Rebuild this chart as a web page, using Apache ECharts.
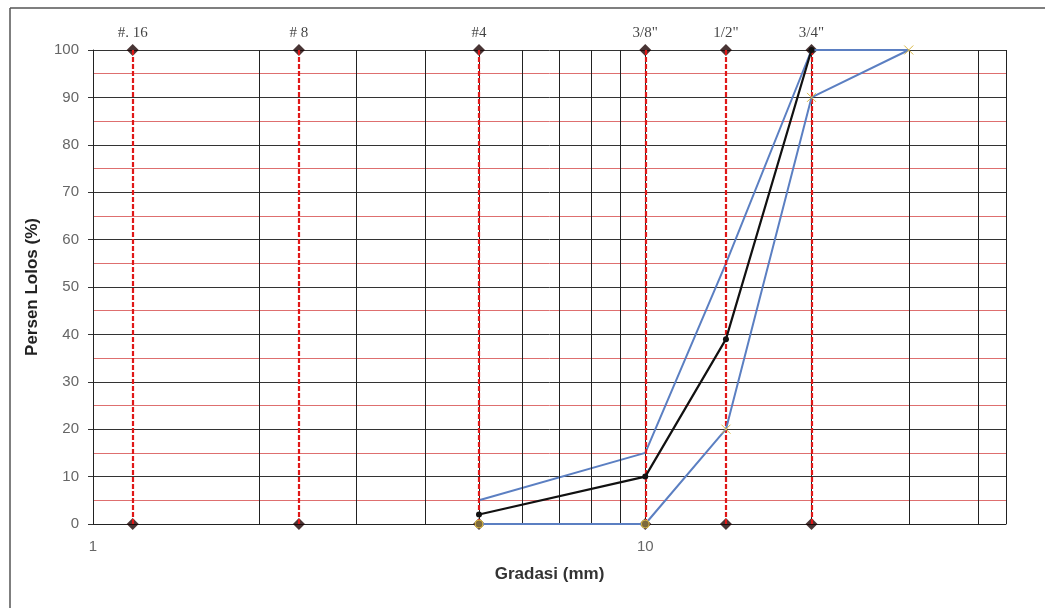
<!DOCTYPE html>
<html>
<head>
<meta charset="utf-8">
<script src="https://cdn.jsdelivr.net/npm/echarts@6/dist/echarts.min.js"></script>
<style>
  html, body { margin: 0; padding: 0; background: #fff; }
  #chart { width: 1045px; height: 608px; }
</style>
</head>
<body>
<div id="chart"></div>
<script>
// sieve openings (mm) and their names
const sieveNames = ['#. 16', '# 8', '#4', '3/8"', '1/2"', '3/4"']
const sieveSizes = [1.18, 2.36, 5, 10, 14, 20]

// grading envelope and measured grading
const upperX = [5, 10, 14, 20, 30]
const upperY = [5, 15, 55, 100, 100]
const lowerX = [5, 10, 14, 20, 30]
const lowerY = [0, 0, 20, 90, 100]
const gradX = [5, 10, 14, 20]
const gradY = [2, 10, 39, 100]

// log minor grid lines
const minorGridX = [2, 3, 4, 5, 6, 7, 8, 9, 20, 30, 40]

const pairs = (xs, ys) => xs.map((x, i) => [x, ys[i]])
const crossPath = 'path://M0,0L10,10M10,0L0,10'

const diamonds = []
sieveSizes.forEach((s, i) => {
  diamonds.push({ value: [s, 0] })
  diamonds.push({ value: [s, 100], label: { show: true, formatter: sieveNames[i] } })
})

const chart = echarts.init(document.getElementById('chart'), null, { renderer: 'canvas' })

chart.setOption({
  animation: false,
  backgroundColor: '#fff',
  grid: { left: 93, top: 50, right: 39, bottom: 84 },
  graphic: [
    { type: 'line', shape: { x1: 10, y1: 8, x2: 1045, y2: 8 }, style: { stroke: '#555', lineWidth: 1.5 } },
    { type: 'line', shape: { x1: 10, y1: 8, x2: 10, y2: 608 }, style: { stroke: '#555', lineWidth: 1.5 } }
  ],
  xAxis: {
    type: 'log',
    logBase: 10,
    min: 1,
    max: 45,
    name: 'Gradasi (mm)',
    nameLocation: 'middle',
    nameGap: 42,
    nameTextStyle: { fontFamily: 'Liberation Sans', fontWeight: 'bold', fontSize: 17, color: '#333' },
    axisLine: { show: true, lineStyle: { color: '#222' } },
    axisTick: { show: false },
    axisLabel: {
      showMaxLabel: false,
      margin: 15,
      fontFamily: 'Liberation Sans',
      fontSize: 15,
      color: '#666'
    },
    splitLine: { show: true, lineStyle: { color: '#222', width: 1 } }
  },
  yAxis: {
    type: 'value',
    min: 0,
    max: 100,
    interval: 10,
    name: 'Persen Lolos (%)',
    nameLocation: 'middle',
    nameGap: 52,
    nameTextStyle: { fontFamily: 'Liberation Sans', fontWeight: 'bold', fontSize: 17, color: '#222' },
    axisLine: { show: true, lineStyle: { color: '#222' } },
    axisTick: { show: true, length: 5, lineStyle: { color: '#333' } },
    axisLabel: { margin: 14, fontFamily: 'Liberation Sans', fontSize: 15, color: '#666' },
    splitLine: { show: true, lineStyle: { color: '#333', width: 1 } },
    minorTick: { show: true, splitNumber: 2, length: 0 },
    minorSplitLine: { show: true, lineStyle: { color: '#de6f6f', width: 1 } }
  },
  series: [
    {
      name: 'grid',
      type: 'line',
      data: [],
      silent: true,
      markLine: {
        silent: true,
        symbol: 'none',
        label: { show: false },
        lineStyle: { color: '#222', width: 1, type: 'solid' },
        data: minorGridX.map(v => ({ xAxis: v }))
      }
    },
    {
      name: 'sieveLines',
      type: 'line',
      data: [],
      silent: true,
      markLine: {
        silent: true,
        symbol: 'none',
        label: { show: false },
        lineStyle: { color: '#e01818', width: 2.2, type: [5, 2] },
        data: sieveSizes.map(v => ({ xAxis: v }))
      },
      z: 2
    },
    {
      name: 'sieve',
      type: 'scatter',
      data: diamonds,
      clip: false,
      symbol: 'diamond',
      symbolSize: 12,
      itemStyle: { color: '#1c0303' },
      label: {
        show: false,
        position: 'top',
        distance: 3,
        fontFamily: 'Liberation Serif',
        fontSize: 15,
        color: '#111'
      },
      z: 3
    },
    {
      name: 'upper',
      type: 'line',
      data: pairs(upperX, upperY),
      showSymbol: false,
      lineStyle: { color: '#5b7fc2', width: 2 },
      z: 4
    },
    {
      name: 'lower',
      type: 'line',
      data: pairs(lowerX, lowerY),
      symbol: v => (v[1] === 0 ? 'circle' : crossPath),
      symbolSize: v => (v[1] === 0 ? 8 : 9),
      itemStyle: {
        color: p => (p.value[1] === 0 ? '#7d6a3c' : '#d9b845'),
        borderColor: '#d9b845',
        borderWidth: 1
      },
      lineStyle: { color: '#5b7fc2', width: 2 },
      clip: false,
      z: 5
    },
    {
      name: 'gradasi',
      type: 'line',
      data: pairs(gradX, gradY),
      symbol: 'circle',
      symbolSize: 6,
      itemStyle: { color: '#111' },
      lineStyle: { color: '#111', width: 2.2 },
      clip: false,
      z: 6
    }
  ]
})
</script>
</body>
</html>
